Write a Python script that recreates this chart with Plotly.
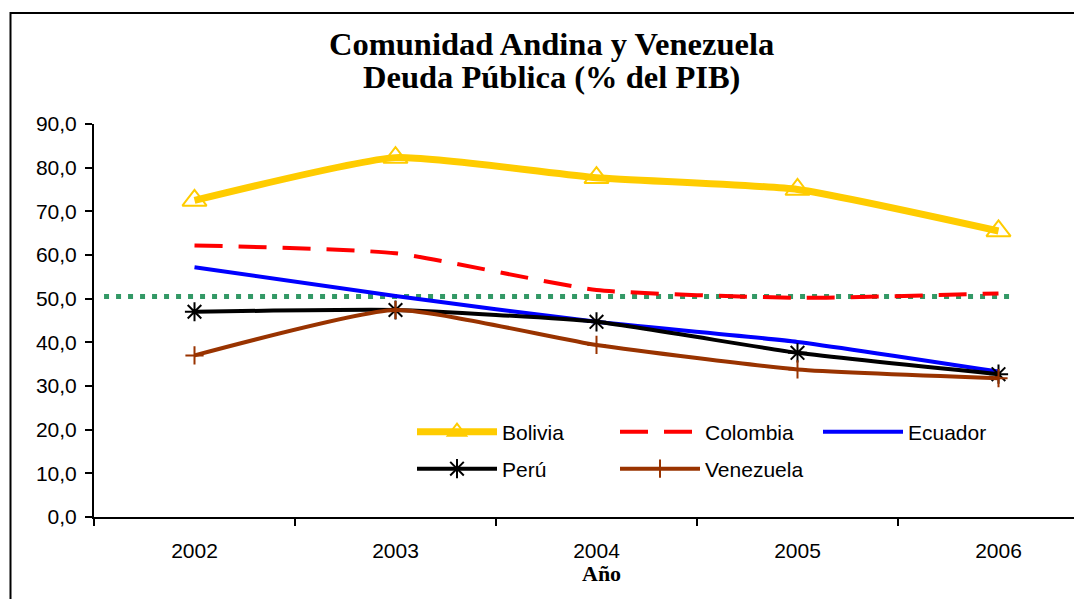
import plotly.graph_objects as go

years = ["2002", "2003", "2004", "2005", "2006"]
bolivia = [72.5, 82.3, 77.7, 75.0, 65.5]
colombia = [62.2, 60.4, 52.0, 50.2, 51.2]
ecuador = [57.2, 50.6, 44.7, 40.1, 33.3]
peru = [47.0, 47.4, 44.7, 37.6, 32.7]
venezuela = [37.0, 47.4, 39.4, 33.8, 31.8]
ref_x = [-0.45, 4.06]
ref_y = [50.5, 50.5]
y_ticks = [0, 10, 20, 30, 40, 50, 60, 70, 80, 90]

xi = list(range(len(years)))
SM = 0.5

fig = go.Figure()

fig.add_trace(go.Scatter(x=ref_x, y=ref_y, mode="lines", showlegend=False,
                         line=dict(color="#339966", width=5, dash="5px,7px"),
                         hoverinfo="skip"))

fig.add_trace(go.Scatter(x=xi, y=bolivia, name="Bolivia", mode="lines+markers",
                         line=dict(color="#FFCC00", width=7, shape="spline", smoothing=SM),
                         marker=dict(symbol="triangle-up-open", size=21, color="#FFCC00",
                                     line=dict(width=2, color="#FFCC00")),
                         legend="legend"))
fig.add_trace(go.Scatter(x=xi, y=colombia, name="Colombia", mode="lines",
                         line=dict(color="#FF0000", width=4, dash="28px,16px",
                                   shape="spline", smoothing=SM),
                         legend="legend2"))
fig.add_trace(go.Scatter(x=xi, y=ecuador, name="Ecuador", mode="lines",
                         line=dict(color="#0000FF", width=4, shape="spline", smoothing=SM),
                         legend="legend3"))
fig.add_trace(go.Scatter(x=xi, y=peru, name="Perú", mode="lines+markers",
                         line=dict(color="#000000", width=4, shape="spline", smoothing=SM),
                         marker=dict(symbol="asterisk-open", size=16, color="#000000",
                                     line=dict(width=2, color="#000000")),
                         legend="legend4"))
fig.add_trace(go.Scatter(x=xi, y=venezuela, name="Venezuela", mode="lines+markers",
                         line=dict(color="#993300", width=4, shape="spline", smoothing=SM),
                         marker=dict(symbol="cross-thin-open", size=13, color="#993300",
                                     line=dict(width=2, color="#993300")),
                         legend="legend5"))

tick_font = dict(family="Liberation Sans, Arial, sans-serif", size=21, color="#000000")
title_font = dict(family="Liberation Serif, Times New Roman, serif", size=32.5, color="#000000")

# figure sits 8px in from the page corner (default body margin)
W, H = 1074, 591
ML, MT, MB = 86, 116, 82
PW, PH = W - ML, H - MT - MB


def px(xv):
    return (xv - 8 - ML) / PW


def py(yv):
    return (H - MB - (yv - 8)) / PH


def leg(x, y):
    return dict(orientation="h", x=x, y=y, xanchor="left", yanchor="middle",
                font=tick_font, bgcolor="rgba(0,0,0,0)", itemwidth=80, borderwidth=0)


fig.update_layout(
    width=W, height=H,
    margin=dict(l=ML, r=0, t=MT, b=MB),
    paper_bgcolor="white", plot_bgcolor="white",
    separators=",.",
    font=tick_font,
    xaxis=dict(range=[-0.5, -0.5 + PW / 201.0], tickmode="array", tickvals=xi, ticktext=years,
               ticks="", showgrid=False, zeroline=False, showline=True,
               linecolor="#000000", linewidth=2, tickfont=tick_font,
               ticklabelstandoff=14,
               minor=dict(tickvals=[-0.5, 0.5, 1.5, 2.5, 3.5, 4.5], ticks="outside",
                          ticklen=7, tickwidth=2, tickcolor="#000000", showgrid=False)),
    yaxis=dict(range=[0, 90], tickmode="array", tickvals=y_ticks, tickformat=".1f",
               ticks="outside", ticklen=7, tickwidth=2, tickcolor="#000000",
               showgrid=False, zeroline=False, showline=True, linecolor="#000000",
               linewidth=2, tickfont=tick_font, ticklabelstandoff=4),
    legend=leg(px(412), py(432)),
    legend2=leg(px(615), py(432)),
    legend3=leg(px(818), py(432)),
    legend4=leg(px(412), py(469)),
    legend5=leg(px(615), py(469)),
    shapes=[dict(type="rect", xref="paper", yref="paper", x0=px(10.5), x1=1.05,
                 y0=-0.3, y1=py(13), line=dict(color="#000000", width=2),
                 fillcolor="rgba(0,0,0,0)", layer="below")],
    annotations=[
        dict(text="<b>Comunidad Andina y Venezuela</b>", xref="paper", yref="paper",
             x=px(551), y=py(44), xanchor="center", yanchor="middle",
             showarrow=False, font=title_font),
        dict(text="<b>Deuda Pública (% del PIB)</b>", xref="paper", yref="paper",
             x=px(551), y=py(77), xanchor="center", yanchor="middle",
             showarrow=False, font=title_font),
        dict(text="<b>Año</b>", xref="paper", yref="paper",
             x=px(601), y=py(573), xanchor="center", yanchor="middle",
             showarrow=False, font=dict(family="Liberation Serif, serif", size=22, color="#000000")),
    ],
)

fig.write_html("out.html")
